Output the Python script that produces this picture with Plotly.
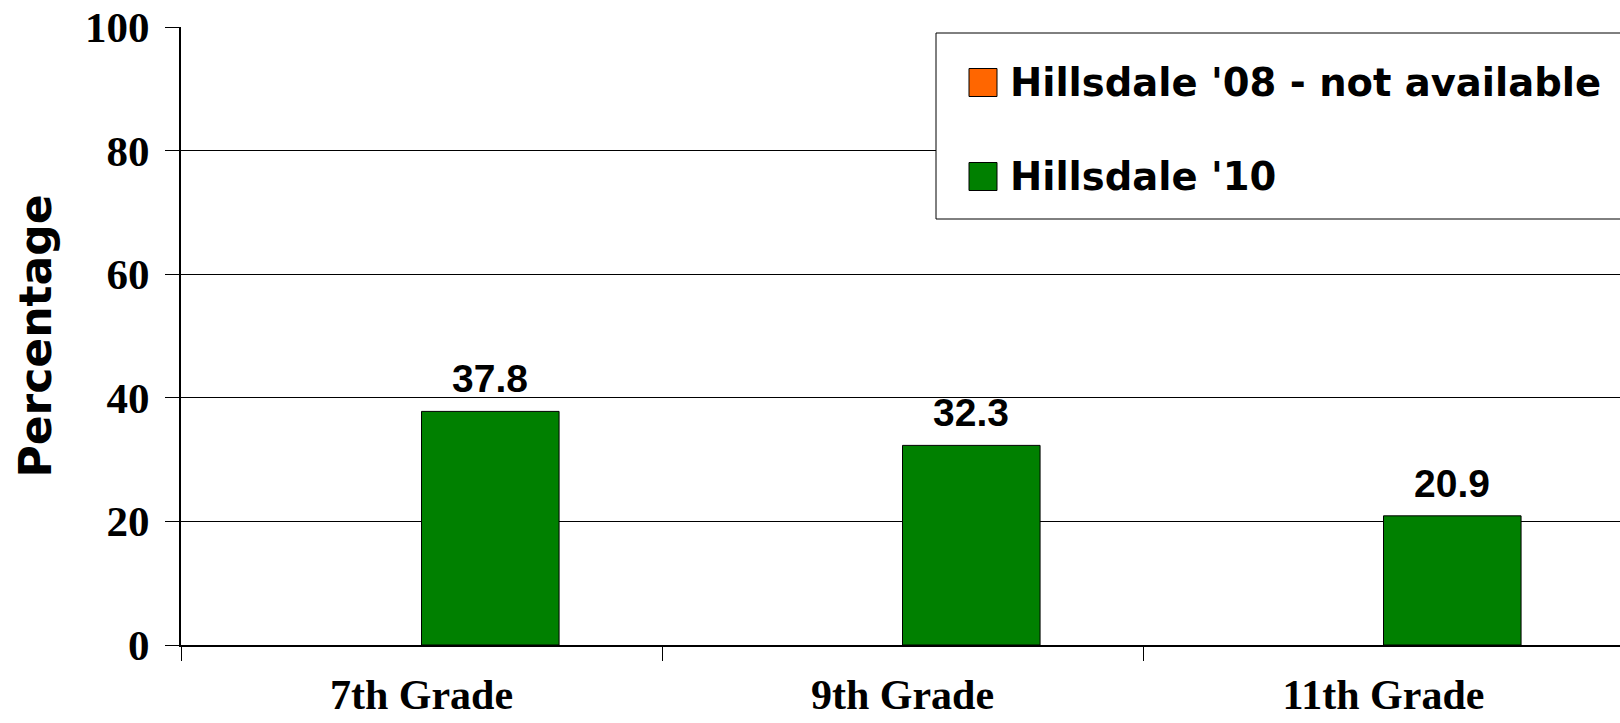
import plotly.graph_objects as go

# ---- data ----
categories = ["7th Grade", "9th Grade", "11th Grade"]
series_names = ["Hillsdale '08 - not available", "Hillsdale '10"]
values_08 = [None, None, None]
values_10 = [37.8, 32.3, 20.9]
series_colors = ["#FF6600", "#008000"]
y_ticks = [0, 20, 40, 60, 80, 100]

W, H = 1620, 723
L, R, T, B = 181, 0, 27, 78
PW, PH = W - L - R, H - T - B
BARGAP = 0.428

def px_x(p):
    return (p - L) / PW

def px_y(p):
    return (H - B - p) / PH

fig = go.Figure()
for name, vals, col in zip(series_names, [values_08, values_10], series_colors):
    fig.add_trace(go.Bar(
        x=categories, y=vals, name=name,
        marker=dict(color=col, line=dict(color="black", width=1)),
        showlegend=False,
    ))

# value labels above the '10 bars
bar_w = (1 - BARGAP) / 2
annotations = []
for i, v in enumerate(values_10):
    annotations.append(dict(
        x=i + bar_w / 2, y=v, xref="x", yref="y",
        text=f"{v:.1f}", showarrow=False, yanchor="bottom", yshift=9,
        font=dict(family="Liberation Sans, Arial, sans-serif", size=39, color="black", weight="bold"),
    ))

# legend box (drawn manually to match large swatches)
shapes = [dict(type="rect", xref="paper", yref="paper",
               x0=px_x(936), x1=px_x(1640), y0=px_y(219), y1=px_y(33),
               line=dict(color="black", width=1), fillcolor="white", layer="above")]
row_centers = [82.5, 176.5]
for name, col, cy in zip(series_names, series_colors, row_centers):
    shapes.append(dict(type="rect", xref="paper", yref="paper",
                       x0=px_x(969), x1=px_x(997), y0=px_y(cy + 14), y1=px_y(cy - 14),
                       line=dict(color="black", width=1), fillcolor=col, layer="above"))
    annotations.append(dict(
        x=px_x(1008), y=px_y(cy), xref="paper", yref="paper", text=name,
        showarrow=False, xanchor="left", yanchor="middle",
        font=dict(family="DejaVu Sans, Verdana, sans-serif", size=38.5, color="black", weight="bold"),
    ))

fig.update_layout(
    width=W, height=H,
    margin=dict(l=L, r=R, t=T, b=B, pad=0, autoexpand=False),
    paper_bgcolor="white", plot_bgcolor="white",
    barmode="group", bargap=BARGAP, bargroupgap=0,
    showlegend=False,
    shapes=shapes, annotations=annotations,
)
fig.update_xaxes(
    type="category", range=[-0.5, -0.5 + PW / 481], automargin=False,
    showline=True, linecolor="black", linewidth=2,
    ticks="outside", tickson="boundaries", ticklen=14, tickcolor="black", tickwidth=1,
    showgrid=False, zeroline=False, ticklabelstandoff=12,
    tickfont=dict(family="Liberation Serif, Times New Roman, serif", size=42, color="black", weight="bold"),
)
fig.update_yaxes(
    range=[0, 100], tickvals=y_ticks, automargin=False,
    showline=True, linecolor="black", linewidth=2,
    ticks="outside", ticklen=14, tickcolor="black", tickwidth=1,
    showgrid=True, gridcolor="black", gridwidth=1, zeroline=False,
    ticklabelstandoff=7,
    tickfont=dict(family="Liberation Serif, Times New Roman, serif", size=43, color="black", weight="bold"),
    title=dict(text="Percentage", standoff=20,
               font=dict(family="DejaVu Sans, Verdana, sans-serif", size=44, color="black", weight="bold")),
)

fig.write_html("out.html", config={"displayModeBar": False},
               post_script="document.body.style.margin='0';document.body.style.overflow='hidden';")
